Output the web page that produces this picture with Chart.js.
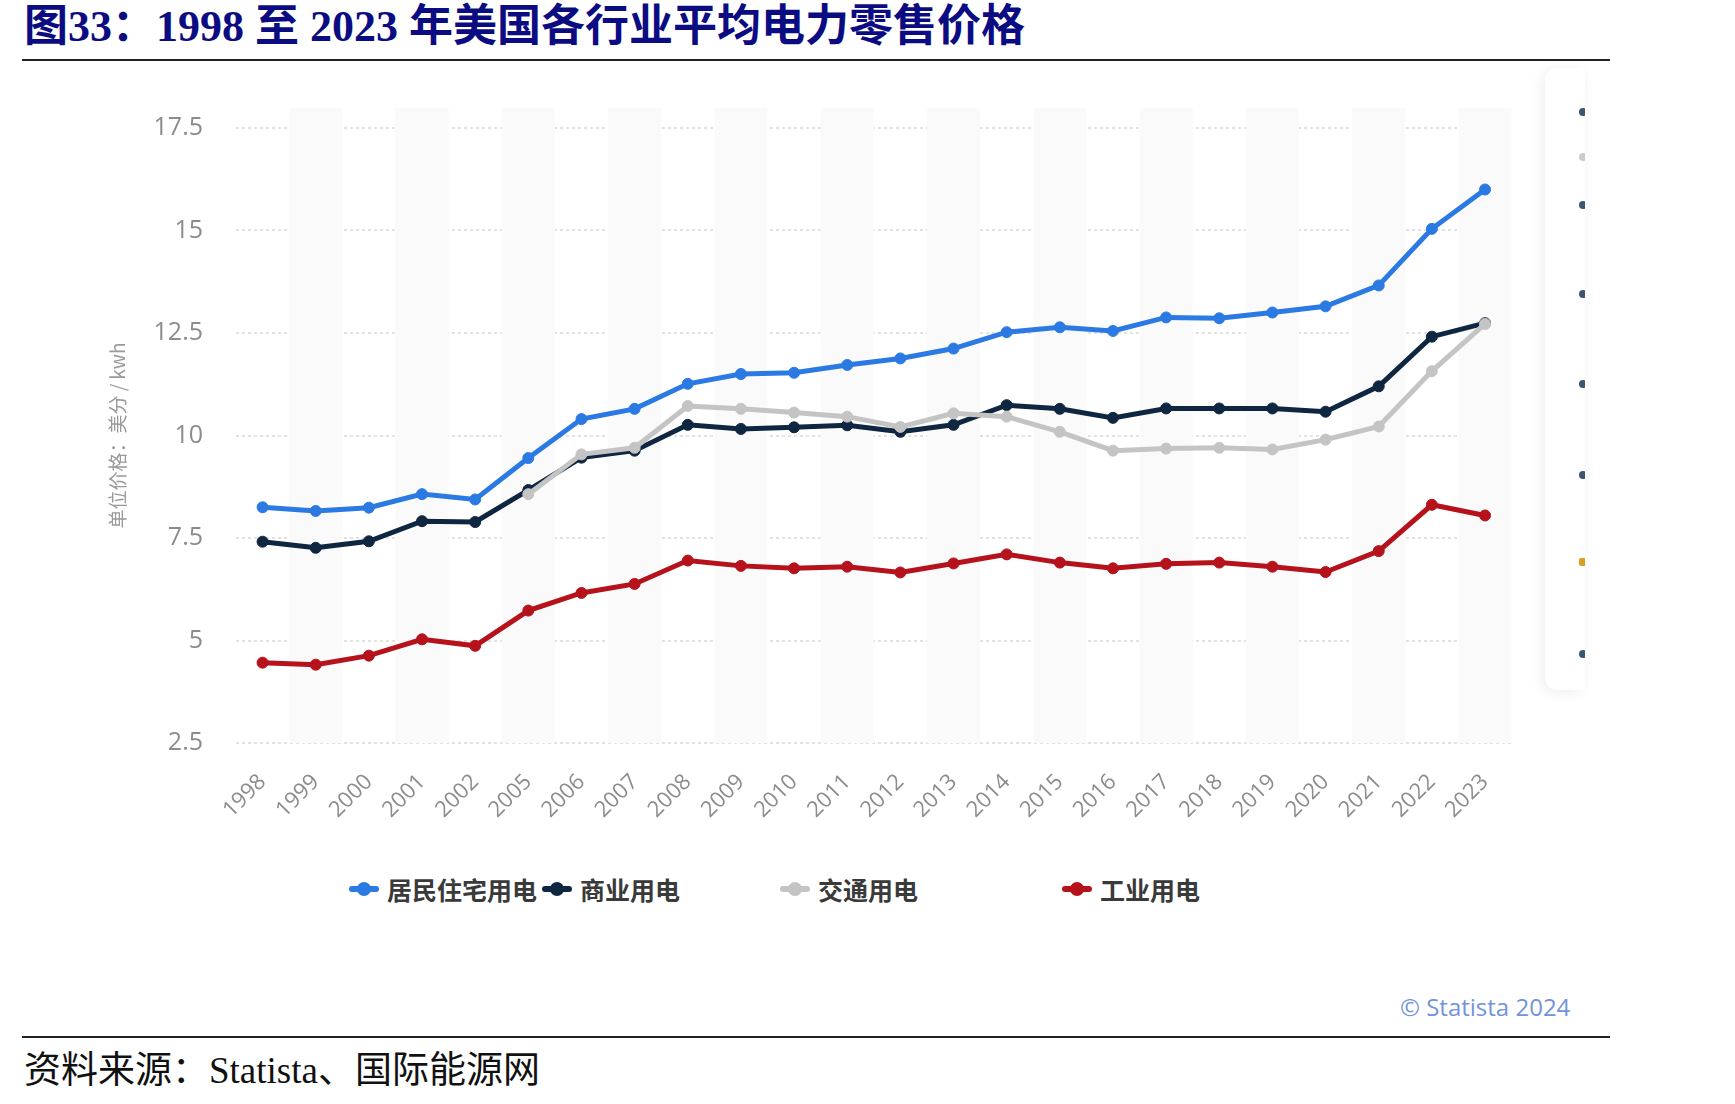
<!DOCTYPE html>
<html>
<head>
<meta charset="utf-8">
<script src="https://cdn.jsdelivr.net/npm/chart.js@4.4.1/dist/chart.umd.min.js"></script>
<style>
  body { margin: 0; background: #fff; width: 1735px; height: 1104px; position: relative; overflow: hidden; }
  .title {
    position: absolute; left: 24px; top: 5px; line-height: 44px;
    font-family: "Liberation Serif", "Noto Sans CJK SC", serif;
    font-weight: bold; font-size: 44px; color: #0c0c82; white-space: nowrap;
  }
  .rule { position: absolute; left: 22px; width: 1588px; height: 2px; background: #222; }
  .source {
    position: absolute; left: 24px; top: 1052px; line-height: 37px;
    font-family: "Liberation Serif", "Noto Sans CJK SC", serif;
    font-size: 37px; color: #111; white-space: nowrap;
  }
  .copy {
    position: absolute; left: 1400px; top: 990px;
    font-family: "Open Sans", sans-serif; font-size: 24px; color: #7393dc;
  }
  #wrap { position: absolute; left: 100px; top: 90px; width: 1430px; height: 760px; }
  .legend { position: absolute; top: 874px; height: 30px; display: flex; align-items: center;
    font-family: "Noto Sans CJK SC", sans-serif; font-weight: bold; font-size: 25px; color: #3a3a3a; }
  .mk { position: relative; width: 30px; height: 30px; margin-right: 8px; }
  .mk::before { content: ""; position: absolute; left: 0; right: 0; top: 12px; height: 6px; background: var(--c); border-radius: 3px; }
  .mk::after { content: ""; position: absolute; left: 8px; top: 8px; width: 14px; height: 14px; border-radius: 50%; background: var(--c); }
  .panel { position: absolute; left: 1545px; top: 68px; width: 40px; height: 622px; background: #fff;
    border-radius: 12px 0 0 12px; box-shadow: -3px 2px 14px rgba(0,0,0,0.07); overflow: hidden; }
  .panel i { position: absolute; left: 34px; width: 8px; height: 8px; border-radius: 50%; background: #3c5672; }
</style>
</head>
<body>
<div class="title">图33：1998 至 2023 年美国各行业平均电力零售价格</div>
<div class="rule" style="top:59px"></div>

<div class="panel">
  <i style="top:40px"></i><i style="top:85px;background:#ccc"></i><i style="top:133px"></i>
  <i style="top:222px"></i><i style="top:312px"></i><i style="top:403px"></i>
  <i style="top:490px;background:#d9a020;border-radius:2px"></i><i style="top:582px"></i>
</div>

<div id="wrap"><canvas id="chart"></canvas></div>

<div class="legend" style="left:349px"><span class="mk" style="--c:#2b7ae3"></span>居民住宅用电</div>
<div class="legend" style="left:542px"><span class="mk" style="--c:#0f2640"></span>商业用电</div>
<div class="legend" style="left:780px"><span class="mk" style="--c:#c4c4c4"></span>交通用电</div>
<div class="legend" style="left:1062px"><span class="mk" style="--c:#b5121b"></span>工业用电</div>

<div class="copy">© Statista 2024</div>
<div class="rule" style="top:1036px"></div>
<div class="source">资料来源：Statista、国际能源网</div>

<script>
// years (2003/2004 missing in the original chart)
const years = ["1998", "1999", "2000", "2001", "2002", "2005", "2006", "2007", "2008", "2009",
  "2010", "2011", "2012", "2013", "2014", "2015", "2016", "2017", "2018", "2019",
  "2020", "2021", "2022", "2023"];

// 美分 / kwh
const residential = [8.25, 8.16, 8.24, 8.57, 8.44, 9.45, 10.4, 10.65, 11.26, 11.5,
  11.53, 11.72, 11.88, 12.12, 12.52, 12.64, 12.55, 12.88, 12.86, 13.0,
  13.15, 13.66, 15.04, 16.0];
const commercial = [7.41, 7.26, 7.42, 7.91, 7.89, 8.67, 9.46, 9.63, 10.26, 10.16,
  10.2, 10.25, 10.09, 10.26, 10.74, 10.65, 10.43, 10.66, 10.66, 10.66,
  10.58, 11.2, 12.41, 12.74];
const transportation = [null, null, null, null, null, 8.57, 9.54, 9.7, 10.72, 10.65,
  10.56, 10.46, 10.21, 10.54, 10.46, 10.09, 9.63, 9.68, 9.7, 9.66,
  9.9, 10.22, 11.57, 12.72];
const industrial = [4.46, 4.41, 4.63, 5.03, 4.87, 5.73, 6.16, 6.38, 6.95, 6.82,
  6.76, 6.8, 6.66, 6.88, 7.1, 6.9, 6.76, 6.87, 6.9, 6.8,
  6.67, 7.18, 8.31, 8.05];

const yMin = 2.5;
const yMax = 17.5;
const yStep = 2.5;

// faint alternating column bands
const bands = {
  id: "bands",
  beforeDatasetsDraw(chart) {
    const { ctx, chartArea, scales } = chart;
    const x = scales.x;
    const half = (x.getPixelForTick(1) - x.getPixelForTick(0)) / 2;
    ctx.save();
    ctx.fillStyle = "#fafafb";
    for (let i = 1; i < years.length; i += 2) {
      const c = x.getPixelForTick(i);
      ctx.fillRect(c - half, chartArea.top - 20, half * 2, chartArea.bottom - chartArea.top + 20);
    }
    ctx.restore();
  },
};

const line = (label, data, color, order) => ({
  label,
  data,
  order,
  borderColor: color,
  backgroundColor: color,
  pointBackgroundColor: color,
  pointBorderColor: color,
  borderWidth: 5,
  pointRadius: 5.5,
  pointBorderWidth: 1,
  tension: 0,
  spanGaps: false,
});

new Chart(document.getElementById("chart"), {
  type: "line",
  data: {
    labels: years,
    datasets: [
      line("居民住宅用电", residential, "#2b7ae3", 0),
      line("商业用电", commercial, "#0f2640", 1),
      line("交通用电", transportation, "#c4c4c4", -1),
      line("工业用电", industrial, "#b5121b", 2),
    ],
  },
  options: {
    responsive: true,
    maintainAspectRatio: false,
    animation: false,
    layout: { padding: { top: 38, right: 15, left: 0, bottom: 0 } },
    plugins: { legend: { display: false }, tooltip: { enabled: false } },
    scales: {
      x: {
        offset: true,
        afterFit: (s) => { s.height = 107; },
        grid: { display: false, drawTicks: false },
        border: { display: false },
        ticks: {
          autoSkip: false,
          minRotation: 45,
          maxRotation: 45,
          padding: 26,
          color: "#8c8c8c",
          font: { family: "Open Sans", size: 22 },
        },
      },
      y: {
        min: yMin,
        max: yMax,
        afterFit: (s) => { s.width = 136; },
        border: { display: false, dash: [3, 3] },
        grid: { color: "#e2e2e2", lineWidth: 2, drawTicks: true, tickLength: 28, tickColor: "rgba(0,0,0,0)" },
        ticks: {
          stepSize: yStep,
          padding: 5,
          color: "#8c8c8c",
          font: { family: "Open Sans", size: 25 },
        },
        title: {
          display: true,
          text: "单位价格：美分 / kwh",
          color: "#9a9a9a",
          padding: { top: 6, bottom: 0 },
          font: { family: "Noto Sans CJK SC", size: 19 },
        },
      },
    },
  },
  plugins: [bands],
});
</script>
</body>
</html>
